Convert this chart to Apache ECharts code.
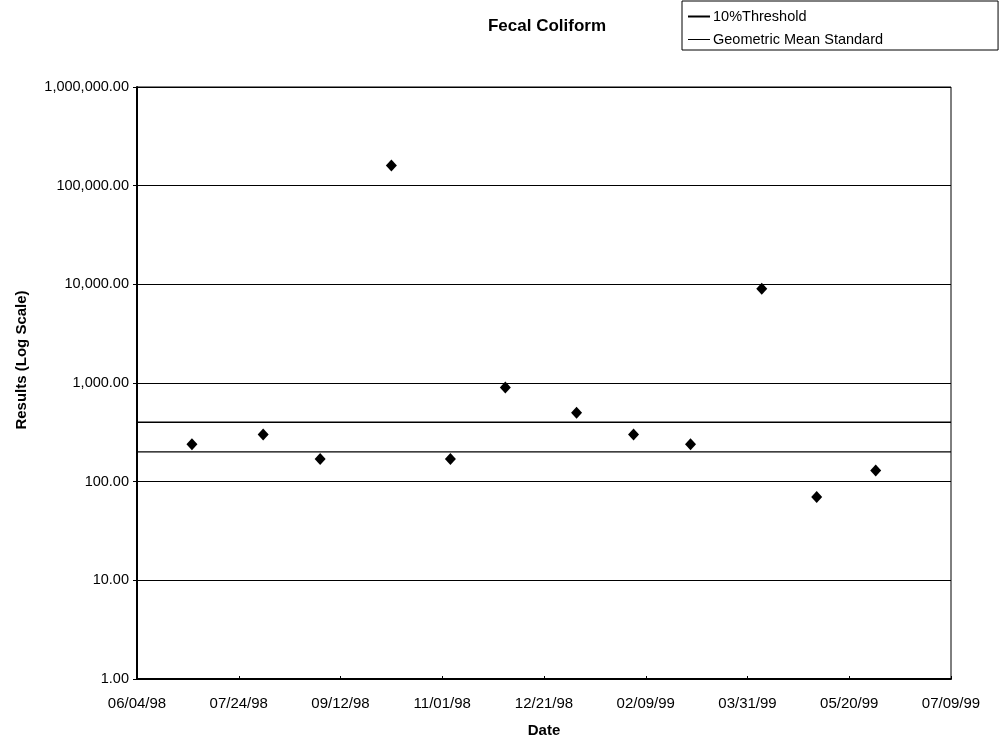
<!DOCTYPE html>
<html>
<head>
<meta charset="utf-8">
<script src="https://cdn.jsdelivr.net/npm/echarts@6/dist/echarts.min.js"></script>
<style>html,body{margin:0;padding:0;background:#fff}#c{width:1005px;height:739px}</style>
</head>
<body>
<div id="c"></div>
<script>
const startDate = '1998-06-04';
const sampleDates = ['1998-07-01','1998-08-05','1998-09-02','1998-10-07','1998-11-05','1998-12-02','1999-01-06','1999-02-03','1999-03-03','1999-04-07','1999-05-04','1999-06-02'];
const sampleValues = [240, 300, 170, 160000, 170, 900, 500, 300, 240, 9000, 70, 130];
const thresholdName = '10%Threshold';
const thresholdValue = 400;
const geoMeanName = 'Geometric Mean Standard';
const geoMeanValue = 200;
const xSpanDays = 400;
const xStepDays = 50;

const DAY = 86400000;
const t0 = Date.parse(startDate + 'T00:00:00Z');
const toDays = d => Math.round((Date.parse(d + 'T00:00:00Z') - t0) / DAY);
const fmtDate = v => {
  const d = new Date(t0 + v * DAY);
  const p = n => String(n).padStart(2, '0');
  return p(d.getUTCMonth() + 1) + '/' + p(d.getUTCDate()) + '/' + String(d.getUTCFullYear()).slice(2);
};
const fmtNum = v => Number(v).toLocaleString('en-US', {minimumFractionDigits: 2, maximumFractionDigits: 2});

const font = 'Liberation Sans, Arial, sans-serif';
const chart = echarts.init(document.getElementById('c'), null, {renderer: 'canvas'});
chart.setOption({
  animation: false,
  backgroundColor: '#fff',
  textStyle: {fontFamily: font, color: '#000'},
  title: {
    text: 'Fecal Coliform', left: 542, top: 13, textAlign: 'center',
    textStyle: {fontFamily: font, fontSize: 17, fontWeight: 'bold', color: '#000'}
  },
  legend: {
    orient: 'vertical', left: 682, top: 1,
    itemWidth: 22, itemHeight: 14, itemGap: 8,
    padding: [8, 115, 3, 6],
    borderColor: '#000', borderWidth: 1,
    textStyle: {fontFamily: font, fontSize: 14.5, color: '#000', padding: [0, 0, 0, -2]},
    data: [
      {name: thresholdName, icon: 'path://M0,6H22V8H0Z'},
      {name: geoMeanName, icon: 'path://M0,6.5H22V7.5H0Z'}
    ]
  },
  grid: {left: 137, right: 54, top: 87, bottom: 60, containLabel: false, outerBoundsMode: 'none',
         show: true, borderColor: '#000', borderWidth: 1},
  xAxis: {
    type: 'value', min: 0, max: xSpanDays, interval: xStepDays,
    name: 'Date', nameLocation: 'middle', nameGap: 44,
    nameTextStyle: {fontFamily: font, fontSize: 15, fontWeight: 'bold', color: '#000'},
    axisLine: {lineStyle: {color: '#000', width: 2}},
    axisTick: {show: true, inside: true, length: 3, lineStyle: {color: '#000'}},
    axisLabel: {formatter: fmtDate, fontFamily: font, fontSize: 15, color: '#000', margin: 17},
    splitLine: {show: false}
  },
  yAxis: {
    type: 'log', logBase: 10, min: 1, max: 1000000,
    name: 'Results (Log Scale)', nameLocation: 'middle', nameGap: 108,
    nameTextStyle: {fontFamily: font, fontSize: 15, fontWeight: 'bold', color: '#000', padding: [0, 0, 0, 46]},
    axisLine: {lineStyle: {color: '#000', width: 2}},
    axisTick: {show: true, length: 4, lineStyle: {color: '#000'}},
    axisLabel: {formatter: fmtNum, fontFamily: font, fontSize: 14.5, color: '#000', margin: 8},
    splitLine: {show: true, lineStyle: {color: '#000', width: 1.2}},
    minorTick: {show: false}
  },
  series: [
    {
      name: thresholdName, type: 'line', symbol: 'none', silent: true,
      itemStyle: {color: '#000'},
      lineStyle: {color: '#000', width: 1.5},
      data: [[0, thresholdValue], [xSpanDays, thresholdValue]]
    },
    {
      name: geoMeanName, type: 'line', symbol: 'none', silent: true,
      itemStyle: {color: '#000'},
      lineStyle: {color: '#000', width: 1.2},
      data: [[0, geoMeanValue], [xSpanDays, geoMeanValue]]
    },
    {
      name: 'Results', type: 'scatter', symbol: 'diamond', symbolSize: [11, 12],
      itemStyle: {color: '#000', opacity: 1},
      data: sampleDates.map((d, i) => [toDays(d), sampleValues[i]])
    }
  ]
});
</script>
</body>
</html>
